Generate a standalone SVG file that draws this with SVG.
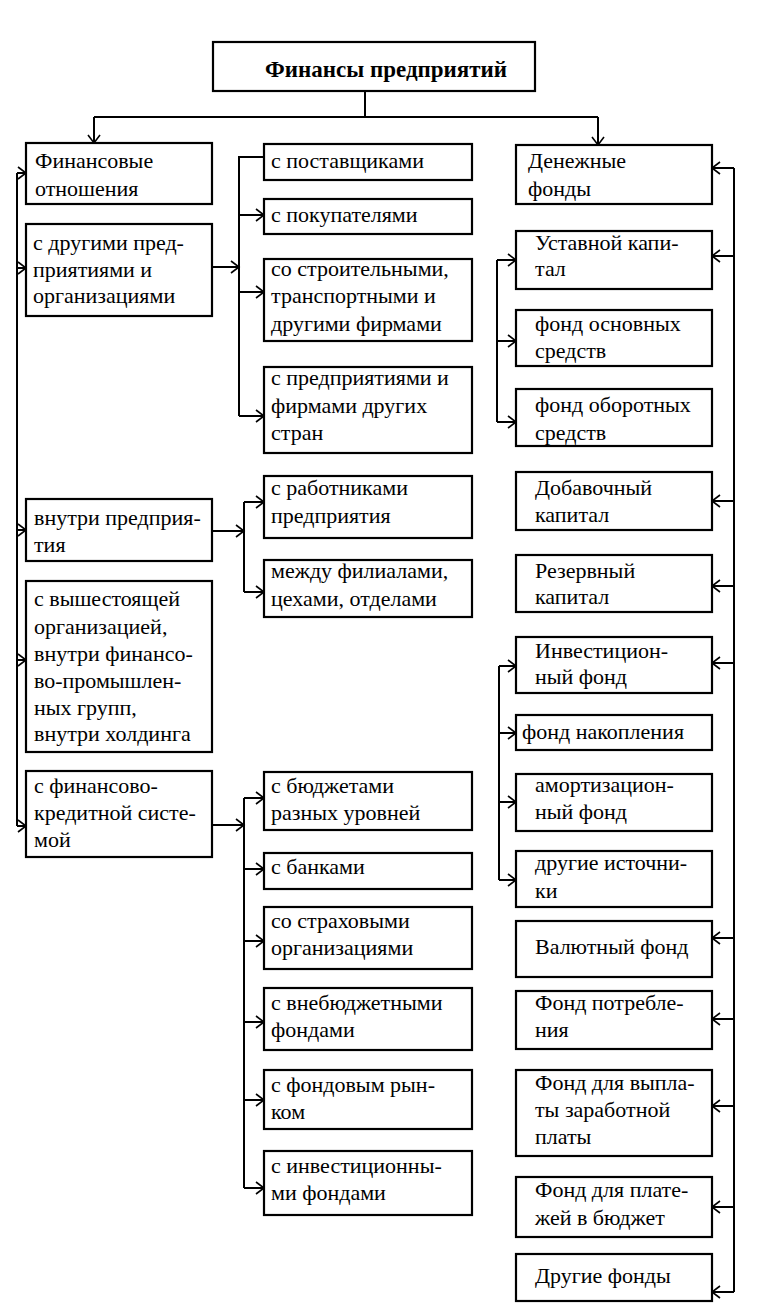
<svg xmlns="http://www.w3.org/2000/svg" width="764" height="1309" viewBox="0 0 764 1309">
<style>
.box{fill:#fff;stroke:#000;stroke-width:2.2}
.t{font-family:"Liberation Serif",serif;font-size:22px;fill:#000}
.title{font-weight:bold;font-size:23px}
.c{fill:none;stroke:#000;stroke-width:2}
.a{marker-end:url(#ah)}
</style>
<defs>
<marker id="ah" markerUnits="userSpaceOnUse" markerWidth="12" markerHeight="14" refX="9" refY="7" orient="auto">
<path d="M1,1 L9,7 L1,13" fill="none" stroke="#000" stroke-width="1.6"/>
</marker>
</defs>
<rect width="764" height="1309" fill="#fff"/>

<g id="connectors">
<path class="c" d="M365,91 V117 M94,117 H598"/>
<path class="c a" d="M94,117 V143"/>
<path class="c a" d="M598,117 V145"/>
<path class="c" d="M17,173 V826"/>
<path class="c a" d="M17,173 H26"/>
<path class="c a" d="M17,268 H26"/>
<path class="c a" d="M17,530 H26"/>
<path class="c a" d="M17,660 H26"/>
<path class="c a" d="M17,826 H26"/>
<path class="c" d="M264,157 H239 V416"/>
<path class="c a" d="M212,267 H239"/>
<path class="c a" d="M239,215 H264"/>
<path class="c a" d="M239,292 H264"/>
<path class="c a" d="M239,416 H264"/>
<path class="c" d="M244,502 V592"/>
<path class="c a" d="M212,531 H244"/>
<path class="c a" d="M244,502 H264"/>
<path class="c a" d="M244,592 H264"/>
<path class="c" d="M244,798 V1188"/>
<path class="c a" d="M212,825 H244"/>
<path class="c a" d="M244,798 H264"/>
<path class="c a" d="M244,869 H264"/>
<path class="c a" d="M244,941 H264"/>
<path class="c a" d="M244,1022 H264"/>
<path class="c a" d="M244,1100 H264"/>
<path class="c a" d="M244,1188 H264"/>
<path class="c" d="M734,168 V1292"/>
<path class="c a" d="M734,168 H712"/>
<path class="c a" d="M734,256 H712"/>
<path class="c a" d="M734,501 H712"/>
<path class="c a" d="M734,586 H712"/>
<path class="c a" d="M734,663 H712"/>
<path class="c a" d="M734,938 H712"/>
<path class="c a" d="M734,1019 H712"/>
<path class="c a" d="M734,1106 H712"/>
<path class="c a" d="M734,1207 H712"/>
<path class="c a" d="M734,1292 H712"/>
<path class="c" d="M497,260 V422"/>
<path class="c a" d="M497,260 H516"/>
<path class="c a" d="M497,341 H516"/>
<path class="c a" d="M497,422 H516"/>
<path class="c" d="M499,666 V880"/>
<path class="c a" d="M499,666 H516"/>
<path class="c a" d="M499,733 H516"/>
<path class="c a" d="M499,802 H516"/>
<path class="c a" d="M499,880 H516"/>
</g>

<g id="title"><rect class="box" x="213" y="42" width="322" height="49"/><text class="t title" x="265" y="77">Финансы предприятий</text></g>

<g id="l1"><rect class="box" x="26" y="143" width="186" height="61"/><text class="t" x="35" y="168">Финансовые</text><text class="t" x="35" y="196">отношения</text></g>
<g id="l2"><rect class="box" x="26" y="224" width="186" height="92"/><text class="t" x="33" y="250">с другими пред-</text><text class="t" x="33" y="277">приятиями и</text><text class="t" x="33" y="303">организациями</text></g>
<g id="l3"><rect class="box" x="26" y="499" width="186" height="62"/><text class="t" x="34" y="525">внутри предприя-</text><text class="t" x="34" y="552">тия</text></g>
<g id="l4"><rect class="box" x="26" y="581" width="186" height="171"/><text class="t" x="34" y="606">с вышестоящей</text><text class="t" x="34" y="634">организацией,</text><text class="t" x="34" y="661">внутри финансо-</text><text class="t" x="34" y="688">во-промышлен-</text><text class="t" x="34" y="715">ных групп,</text><text class="t" x="34" y="741">внутри холдинга</text></g>
<g id="l5"><rect class="box" x="26" y="771" width="186" height="86"/><text class="t" x="34" y="793">с финансово-</text><text class="t" x="34" y="820">кредитной систе-</text><text class="t" x="34" y="847">мой</text></g>

<g id="m1"><rect class="box" x="264" y="144" width="208" height="36"/><text class="t" x="271" y="168">с поставщиками</text></g>
<g id="m2"><rect class="box" x="264" y="199" width="208" height="35"/><text class="t" x="271" y="222">с покупателями</text></g>
<g id="m3"><rect class="box" x="264" y="259" width="208" height="82"/><text class="t" x="271" y="276">со строительными,</text><text class="t" x="271" y="303">транспортными и</text><text class="t" x="271" y="331">другими фирмами</text></g>
<g id="m4"><rect class="box" x="264" y="367" width="208" height="86"/><text class="t" x="271" y="385">с предприятиями и</text><text class="t" x="271" y="413">фирмами других</text><text class="t" x="271" y="440">стран</text></g>
<g id="m5"><rect class="box" x="264" y="476" width="208" height="62"/><text class="t" x="271" y="495">с работниками</text><text class="t" x="271" y="523">предприятия</text></g>
<g id="m6"><rect class="box" x="264" y="560" width="208" height="57"/><text class="t" x="271" y="578">между филиалами,</text><text class="t" x="271" y="606">цехами, отделами</text></g>
<g id="m7"><rect class="box" x="264" y="772" width="208" height="58"/><text class="t" x="271" y="793">с бюджетами</text><text class="t" x="271" y="820">разных уровней</text></g>
<g id="m8"><rect class="box" x="264" y="853" width="208" height="36"/><text class="t" x="271" y="874">с банками</text></g>
<g id="m9"><rect class="box" x="264" y="907" width="208" height="62"/><text class="t" x="271" y="928">со страховыми</text><text class="t" x="271" y="955">организациями</text></g>
<g id="m10"><rect class="box" x="264" y="988" width="208" height="62"/><text class="t" x="271" y="1010">с внебюджетными</text><text class="t" x="271" y="1037">фондами</text></g>
<g id="m11"><rect class="box" x="264" y="1070" width="208" height="59"/><text class="t" x="271" y="1092">с фондовым рын-</text><text class="t" x="271" y="1119">ком</text></g>
<g id="m12"><rect class="box" x="264" y="1151" width="208" height="64"/><text class="t" x="271" y="1173">с инвестиционны-</text><text class="t" x="271" y="1200">ми фондами</text></g>

<g id="r1"><rect class="box" x="516" y="145" width="196" height="59"/><text class="t" x="528" y="168">Денежные</text><text class="t" x="528" y="196">фонды</text></g>
<g id="r2"><rect class="box" x="516" y="231" width="196" height="58"/><text class="t" x="535" y="250">Уставной капи-</text><text class="t" x="535" y="276">тал</text></g>
<g id="r3"><rect class="box" x="516" y="310" width="196" height="56"/><text class="t" x="535" y="331">фонд основных</text><text class="t" x="535" y="358">средств</text></g>
<g id="r4"><rect class="box" x="516" y="389" width="196" height="57"/><text class="t" x="535" y="412">фонд оборотных</text><text class="t" x="535" y="440">средств</text></g>
<g id="r5"><rect class="box" x="516" y="472" width="196" height="58"/><text class="t" x="535" y="495">Добавочный</text><text class="t" x="535" y="522">капитал</text></g>
<g id="r6"><rect class="box" x="516" y="555" width="196" height="57"/><text class="t" x="535" y="578">Резервный</text><text class="t" x="535" y="604">капитал</text></g>
<g id="r7"><rect class="box" x="516" y="637" width="196" height="56"/><text class="t" x="535" y="658">Инвестицион-</text><text class="t" x="535" y="684">ный фонд</text></g>
<g id="r8"><rect class="box" x="516" y="715" width="196" height="35"/><text class="t" x="522" y="739">фонд накопления</text></g>
<g id="r9"><rect class="box" x="516" y="774" width="196" height="57"/><text class="t" x="535" y="792">амортизацион-</text><text class="t" x="535" y="819">ный фонд</text></g>
<g id="r10"><rect class="box" x="516" y="851" width="196" height="56"/><text class="t" x="535" y="870">другие источни-</text><text class="t" x="535" y="898">ки</text></g>
<g id="r11"><rect class="box" x="516" y="921" width="196" height="56"/><text class="t" x="535" y="954">Валютный фонд</text></g>
<g id="r12"><rect class="box" x="516" y="991" width="196" height="58"/><text class="t" x="535" y="1010">Фонд потребле-</text><text class="t" x="535" y="1037">ния</text></g>
<g id="r13"><rect class="box" x="516" y="1070" width="196" height="86"/><text class="t" x="535" y="1090">Фонд для выпла-</text><text class="t" x="535" y="1117">ты заработной</text><text class="t" x="535" y="1144">платы</text></g>
<g id="r14"><rect class="box" x="516" y="1177" width="196" height="60"/><text class="t" x="535" y="1197">Фонд для плате-</text><text class="t" x="535" y="1225">жей в бюджет</text></g>
<g id="r15"><rect class="box" x="516" y="1254" width="196" height="47"/><text class="t" x="535" y="1283">Другие фонды</text></g>
</svg>
